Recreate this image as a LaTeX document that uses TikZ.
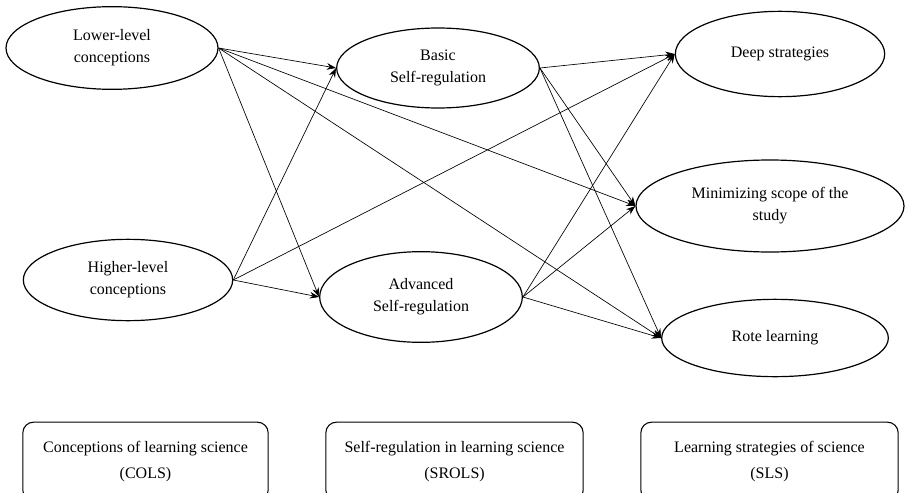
\documentclass[tikz,border=0pt]{standalone}
\usepackage{fontspec}
\setmainfont{Liberation Serif}
\usetikzlibrary{shapes.geometric}
\usetikzlibrary{arrows.meta}

\tikzset{
  construct/.style={ellipse,draw,line width=0.9pt,inner sep=0pt,align=center,
    font=\fontsize{12}{16.5}\selectfont},
  scalebox/.style={rectangle,draw,line width=0.8pt,rounded corners=8pt,align=center,
    minimum height=59pt,font=\fontsize{12}{20}\selectfont},
  path/.style={->,line width=0.5pt}
}

\begin{document}
\begin{tikzpicture}[>={Stealth[length=7pt,width=5pt]},x=0.75pt,y=-0.75pt]
  \useasboundingbox (0,0) rectangle (905,492);
  \clip (0,0) rectangle (905,492);
  % conceptions
  \node[construct,minimum width=159pt,minimum height=62pt] (low) at (112,48) {Lower-level\\conceptions};
  \node[construct,minimum width=157pt,minimum height=61pt] (high) at (128,280) {Higher-level\\conceptions};
  % self-regulation
  \node[construct,minimum width=152pt,minimum height=60pt] (basic) at (438,68) {Basic\\Self-regulation};
  \node[construct,minimum width=152pt,minimum height=68pt] (adv) at (421,297) {Advanced\\Self-regulation};
  % strategies
  \node[construct,minimum width=157pt,minimum height=64pt] (deep) at (780,54) {Deep strategies};
  \node[construct,minimum width=201pt,minimum height=69pt] (mini) at (770,206) {Minimizing scope of the\\study};
  \node[construct,minimum width=170pt,minimum height=58pt] (rote) at (775,338) {Rote learning};
  % scales
  \node[scalebox,minimum width=184pt] (cols) at (145.5,461.5) {Conceptions of learning science\\(COLS)};
  \node[scalebox,minimum width=193pt] (srols) at (454.5,461.5) {Self-regulation in learning science\\(SROLS)};
  \node[scalebox,minimum width=193pt] (sls) at (769.5,461.5) {Learning strategies of science\\(SLS)};
  % paths
  \foreach \a/\b in {low/basic,low/adv,low/mini,low/rote,high/basic,high/adv,high/deep,
                     basic/deep,basic/mini,basic/rote,adv/deep,adv/mini,adv/rote}
    \draw[path] (\a.east) -- (\b.west);
\end{tikzpicture}
\end{document}
